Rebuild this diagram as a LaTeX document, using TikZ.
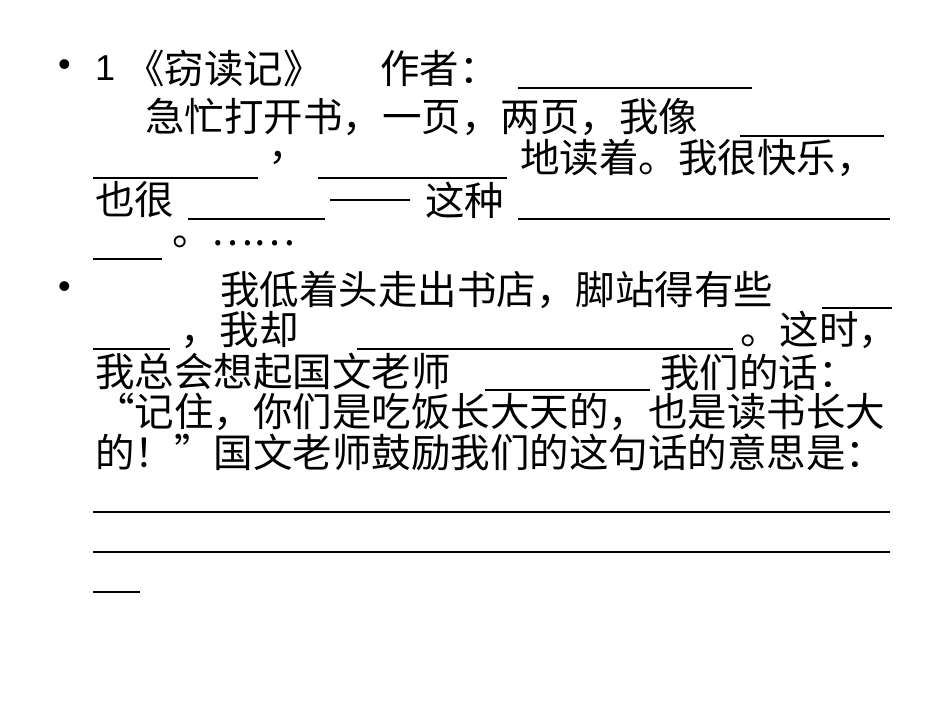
\documentclass[tikz,border=0pt]{standalone}
\usepackage{fontspec}
\setmainfont{Liberation Sans}
\newfontfamily\cjk{Noto Sans CJK SC}
\begin{document}
\begin{tikzpicture}[x=1pt,y=-1pt,
 t/.style={anchor=west,inner sep=0pt,font=\cjk\fontsize{39.5}{40}\selectfont},
 bl/.style={anchor=west,inner sep=0pt,font=\fontsize{36}{36}\selectfont},
 u/.style={line width=1.6pt}]
\useasboundingbox[fill=white] (0,0) rectangle (950,713);
\node[bl] (b1) at (58,68) {•};
\node[bl] (n1) at (95,68) {1};
\node[t] (l1) at (125,68) {《窃读记》};
\node[t] (l1b) at (380,68) {作者：};
\draw[u] (518,88) -- (752,88);
\node[t] (l2) at (145,117) {急忙打开书，一页，两页，我像};
\draw[u] (740,136) -- (884,136);
\draw[u] (93,178) -- (258,178);
\node[t] (c3) at (268,158) {，};
\draw[u] (318,178) -- (507,178);
\node[t] (l3) at (520,158) {地读着。我很快乐，};
\node[t] (l4a) at (95,200) {也很};
\draw[u] (188,219) -- (325,219);
\draw[u] (330,200) -- (410,200);
\node[t] (l4b) at (425,200) {这种};
\draw[u] (518,219) -- (890,219);
\draw[u] (93,259) -- (162,259);
\node[t] (l5) at (172,242) {。……};
\node[bl] (b2) at (58,290) {•};
\node[t] (l6) at (220,290) {我低着头走出书店，脚站得有些};
\draw[u] (822,308) -- (892,308);
\draw[u] (93,349) -- (170,349);
\node[t] (l7a) at (180,330) {，我却};
\draw[u] (357,349) -- (733,349);
\node[t] (l7b) at (740,330) {。这时，};
\node[t] (l8a) at (95,372) {我总会想起国文老师};
\draw[u] (485,390) -- (650,390);
\node[t] (l8b) at (660,372) {我们的话：};
\node[t] (l9) at (95,412) {“记住，你们是吃饭长大天的，也是读书长大};
\node[t] (l10) at (95,452) {的！”国文老师鼓励我们的这句话的意思是：};
\draw[u] (93,512) -- (890,512);
\draw[u] (93,552) -- (890,552);
\draw[u] (93,592) -- (140,592);
\end{tikzpicture}
\end{document}
